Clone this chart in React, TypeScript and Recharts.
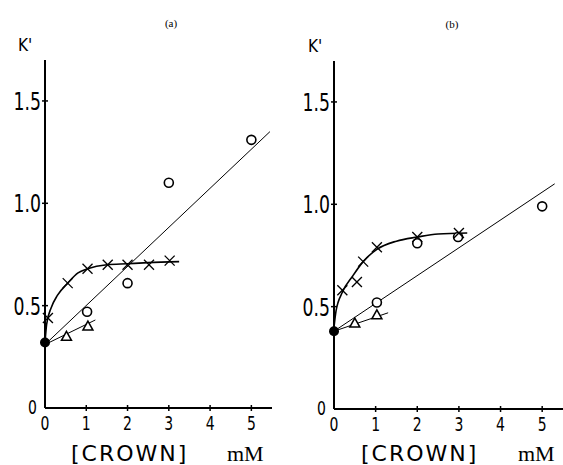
import { ComposedChart, Line, Scatter, XAxis, YAxis } from 'recharts';

type P = { x: number; y: number };

// panel (a)
const A_LLENO: P[] = [{ x: 0, y: 0.32 }];
const A_CRUCES: P[] = [
    { x: 0.07, y: 0.44 }, { x: 0.55, y: 0.61 }, { x: 1.03, y: 0.68 }, { x: 1.52, y: 0.7 },
    { x: 2.0, y: 0.7 }, { x: 2.52, y: 0.7 }, { x: 3.02, y: 0.72 },
];
const A_CIRCULOS: P[] = [{ x: 1.02, y: 0.47 }, { x: 2.0, y: 0.61 }, { x: 3.0, y: 1.1 }, { x: 5.0, y: 1.31 }];
const A_TRIANGULOS: P[] = [{ x: 0.52, y: 0.35 }, { x: 1.04, y: 0.4 }];
const A_RECTA_CIRC: P[] = [{ x: 0, y: 0.31 }, { x: 5.45, y: 1.35 }];
const A_RECTA_TRI: P[] = [{ x: 0, y: 0.31 }, { x: 1.22, y: 0.43 }];
const A_CURVA: P[] = [
    { x: 0, y: 0.32 }, { x: 0.04, y: 0.41 }, { x: 0.15, y: 0.49 }, { x: 0.3, y: 0.55 },
    { x: 0.55, y: 0.61 }, { x: 0.8, y: 0.66 }, { x: 1.03, y: 0.68 }, { x: 1.5, y: 0.7 },
    { x: 2.0, y: 0.705 }, { x: 2.5, y: 0.71 }, { x: 3.25, y: 0.715 },
];

// panel (b)
const B_LLENO: P[] = [{ x: 0, y: 0.38 }];
const B_CRUCES: P[] = [
    { x: 0.2, y: 0.58 }, { x: 0.55, y: 0.62 }, { x: 0.7, y: 0.72 }, { x: 1.03, y: 0.79 },
    { x: 2.0, y: 0.84 }, { x: 3.0, y: 0.86 },
];
const B_CIRCULOS: P[] = [{ x: 1.03, y: 0.52 }, { x: 2.0, y: 0.81 }, { x: 2.98, y: 0.84 }, { x: 5.0, y: 0.99 }];
const B_TRIANGULOS: P[] = [{ x: 0.5, y: 0.42 }, { x: 1.03, y: 0.46 }];
const B_RECTA_CIRC: P[] = [{ x: 0, y: 0.38 }, { x: 5.3, y: 1.1 }];
const B_RECTA_TRI: P[] = [{ x: 0, y: 0.38 }, { x: 1.3, y: 0.47 }];
const B_CURVA: P[] = [
    { x: 0, y: 0.4 }, { x: 0.05, y: 0.48 }, { x: 0.2, y: 0.57 }, { x: 0.45, y: 0.65 },
    { x: 0.7, y: 0.72 }, { x: 1.03, y: 0.78 }, { x: 1.5, y: 0.82 }, { x: 2.0, y: 0.84 },
    { x: 2.5, y: 0.855 }, { x: 3.2, y: 0.86 },
];

const X_TICKS = [0, 1, 2, 3, 4, 5];
const Y_TICKS = [0, 0.5, 1, 1.5];

const DIGITOS = "'DejaVu Sans', sans-serif";

function Cruz(props: any) {
    const { cx, cy } = props;
    return (
        <g stroke="#000" strokeWidth={1.3}>
            <line x1={cx - 5} y1={cy - 5} x2={cx + 5} y2={cy + 5} />
            <line x1={cx - 5} y1={cy + 5} x2={cx + 5} y2={cy - 5} />
        </g>
    );
}

function Circulo(props: any) {
    return <circle cx={props.cx} cy={props.cy} r={4.5} fill="#fff" stroke="#000" strokeWidth={1.6} />;
}

function Triangulo(props: any) {
    const { cx, cy } = props;
    return <path d={`M${cx},${cy - 5} L${cx + 5},${cy + 4} L${cx - 5},${cy + 4} Z`} fill="#fff" stroke="#000" strokeWidth={1.5} />;
}

function Lleno(props: any) {
    return <circle cx={props.cx} cy={props.cy} r={5} fill="#000" />;
}

function TickY(props: any) {
    const { x, y, payload } = props;
    if (payload.value === 0) {
        return (
            <text transform={`translate(${x - 8},${y + 6}) scale(0.7,1)`} textAnchor="end" fontFamily={DIGITOS} fontSize={20} fill="#000">0</text>
        );
    }
    return (
        <g>
            <line x1={x - 3} y1={y} x2={x + 3} y2={y} stroke="#000" strokeWidth={1.5} />
            <text transform={`translate(${x - 4},${y + 9}) scale(0.72,1)`} textAnchor="end" fontFamily={DIGITOS} fontSize={24} fill="#000">
                {payload.value.toFixed(1)}
            </text>
        </g>
    );
}

function TickX(props: any) {
    const { x, y, payload } = props;
    return (
        <g>
            {payload.value !== 0 && <line x1={x} y1={y - 3} x2={x} y2={y + 3} stroke="#000" strokeWidth={1.5} />}
            <text transform={`translate(${x},${y + 22}) scale(0.7,1)`} textAnchor="middle" fontFamily={DIGITOS} fontSize={20} fill="#000">
                {payload.value}
            </text>
        </g>
    );
}

type Panel = {
    lleno: P[]; cruces: P[]; circulos: P[]; triangulos: P[];
    rectaCirc: P[]; rectaTri: P[]; curva: P[];
    width: number; top: number; bottom: number; yWidth: number; right: number;
};

function Grafico(p: Panel) {
    return (
        <ComposedChart width={p.width} height={465} margin={{ top: p.top, right: p.right, bottom: 0, left: 0 }}>
            <XAxis dataKey="x" type="number" domain={[0, 5.5]} ticks={X_TICKS} height={p.bottom}
                tickSize={0} tickMargin={0} tickLine={false} tick={<TickX />}
                axisLine={{ stroke: '#000', strokeWidth: 2 }} />
            <YAxis dataKey="y" type="number" domain={[0, 1.7]} ticks={Y_TICKS} width={p.yWidth}
                tickSize={0} tickMargin={0} tickLine={false} tick={<TickY />}
                axisLine={{ stroke: '#000', strokeWidth: 2 }} />
            <Line data={p.rectaCirc} dataKey="y" type="linear" stroke="#000" strokeWidth={1} dot={false} isAnimationActive={false} />
            <Line data={p.rectaTri} dataKey="y" type="linear" stroke="#000" strokeWidth={1} dot={false} isAnimationActive={false} />
            <Line data={p.curva} dataKey="y" type="monotone" stroke="#000" strokeWidth={1.6} dot={false} isAnimationActive={false} />
            <Scatter data={p.circulos} dataKey="y" shape={<Circulo />} isAnimationActive={false} />
            <Scatter data={p.triangulos} dataKey="y" shape={<Triangulo />} isAnimationActive={false} />
            <Scatter data={p.cruces} dataKey="y" shape={<Cruz />} isAnimationActive={false} />
            <Scatter data={p.lleno} dataKey="y" shape={<Lleno />} isAnimationActive={false} />
        </ComposedChart>
    );
}

export default function App() {
    return (
        <div style={{ position: 'absolute', left: 0, top: 0, width: 563, height: 465, background: '#fff' }}>
            <div style={{ position: 'absolute', left: 0, top: 0 }}>
                <Grafico lleno={A_LLENO} cruces={A_CRUCES} circulos={A_CIRCULOS} triangulos={A_TRIANGULOS}
                    rectaCirc={A_RECTA_CIRC} rectaTri={A_RECTA_TRI} curva={A_CURVA}
                    width={280} top={60} bottom={57} yWidth={45} right={8} />
            </div>
            <div style={{ position: 'absolute', left: 280, top: 0 }}>
                <Grafico lleno={B_LLENO} cruces={B_CRUCES} circulos={B_CIRCULOS} triangulos={B_TRIANGULOS}
                    rectaCirc={B_RECTA_CIRC} rectaTri={B_RECTA_TRI} curva={B_CURVA}
                    width={283} top={61} bottom={56} yWidth={54} right={0} />
            </div>
            <svg width={563} height={465} style={{ position: 'absolute', left: 0, top: 0, pointerEvents: 'none' }}>
                <text x={171} y={27} textAnchor="middle" fontFamily="'Liberation Serif', serif" fontSize={11}>(a)</text>
                <text x={452} y={28} textAnchor="middle" fontFamily="'Liberation Serif', serif" fontSize={11}>(b)</text>
                <text x={18} y={51} fontFamily="'DejaVu Sans', sans-serif" fontSize={17} transform="translate(18,0) scale(0.9,1) translate(-18,0)">K'</text>
                <text x={308} y={52} fontFamily="'DejaVu Sans', sans-serif" fontSize={17} transform="translate(308,0) scale(0.9,1) translate(-308,0)">K'</text>
                <text x={71} y={461} fontFamily="'DejaVu Sans', sans-serif" fontSize={22} letterSpacing={2}>[CROWN]</text>
                <text x={227} y={461} fontFamily="'Liberation Serif', serif" fontSize={22}>mM</text>
                <text x={361} y={461} fontFamily="'DejaVu Sans', sans-serif" fontSize={22} letterSpacing={2}>[CROWN]</text>
                <text x={518} y={461} fontFamily="'Liberation Serif', serif" fontSize={22}>mM</text>
            </svg>
        </div>
    );
}
